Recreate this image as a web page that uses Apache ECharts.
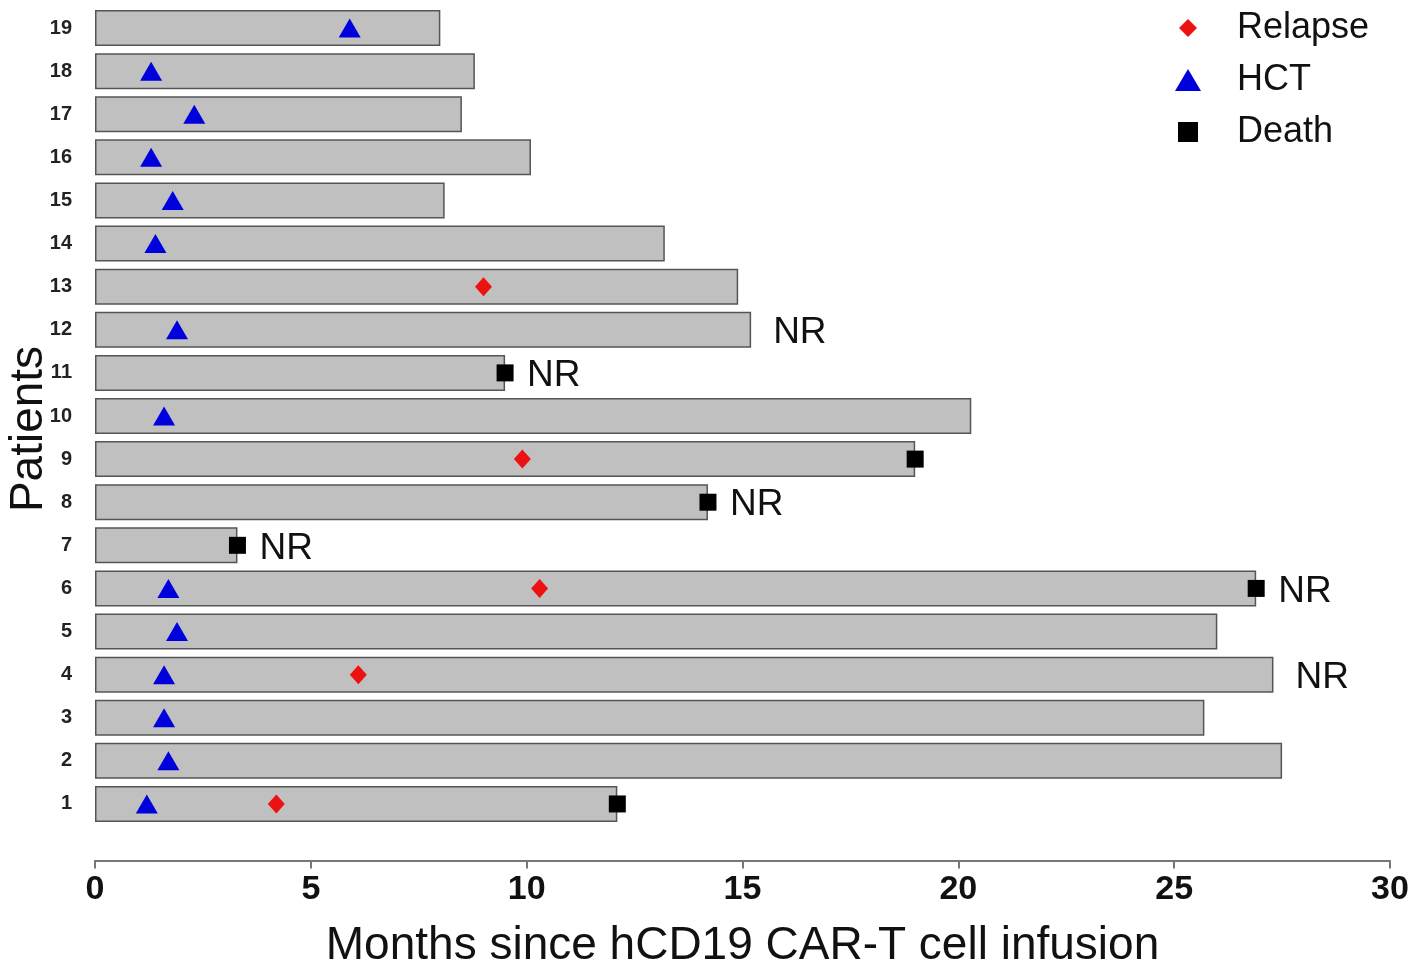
<!DOCTYPE html>
<html>
<head>
<meta charset="utf-8">
<script src="https://cdn.jsdelivr.net/npm/echarts@6/dist/echarts.min.js"></script>
<style>html,body{margin:0;padding:0;background:#fff;}#c{width:1416px;height:971px;}</style>
</head>
<body>
<div id="c"></div>
<script>
// Patients 1..19
const patients = ['1','2','3','4','5','6','7','8','9','10','11','12','13','14','15','16','17','18','19'];
const followUp = [12.1, 27.5, 25.7, 27.3, 26.0, 26.9, 3.3, 14.2, 19.0, 20.3, 9.5, 15.2, 14.9, 13.2, 8.1, 10.1, 8.5, 8.8, 8.0];
const hctTime = [1.2, 1.7, 1.6, 1.6, 1.9, 1.7, null, null, null, 1.6, null, 1.9, null, 1.4, 1.8, 1.3, 2.3, 1.3, 5.9];
const relapseTime = [4.2, null, null, 6.1, null, 10.3, null, null, 9.9, null, null, null, 9.0, null, null, null, null, null, null];
const deathTime = [12.1, null, null, null, null, 26.9, 3.3, 14.2, 19.0, null, 9.5, null, null, null, null, null, null, null, null];
const nrFlag = [false, false, false, true, false, true, true, true, false, false, true, true, false, false, false, false, false, false, false];
const xTicks = [0, 5, 10, 15, 20, 25, 30];
const legendNames = ['Relapse', 'HCT', 'Death'];

function pts(arr) {
  const out = [];
  arr.forEach((v, i) => { if (v !== null) out.push([v, patients[i]]); });
  return out;
}

function legendFor(name, left, top, w, h, padLeft) {
  return {
    data: [name], orient: 'vertical', left: left, top: top,
    itemWidth: w, itemHeight: h, padding: 0,
    textStyle: { fontSize: 36, color: '#111', lineHeight: 36, padding: [0, 0, 0, padLeft] }
  };
}

const chart = echarts.init(document.getElementById('c'));
chart.setOption({
  backgroundColor: '#ffffff',
  animation: false,
  textStyle: { fontFamily: 'Liberation Sans, Arial, sans-serif' },
  grid: { left: 95, right: 26, top: 6.5, bottom: 145.5, containLabel: false, outerBoundsMode: 'none' },
  legend: [
    legendFor(legendNames[0], 1179, 10, 18, 18, 35),
    legendFor(legendNames[1], 1175, 62, 26, 22, 31),
    legendFor(legendNames[2], 1178, 114, 20, 20, 34)
  ],
  xAxis: {
    type: 'value', min: xTicks[0], max: xTicks[xTicks.length - 1], interval: 5,
    offset: 35,
    axisLine: { show: true, lineStyle: { color: '#777', width: 2 } },
    axisTick: { show: true, length: 8, lineStyle: { color: '#777', width: 2 } },
    axisLabel: { fontSize: 34, fontWeight: 'bold', color: '#111', margin: 12 },
    splitLine: { show: false },
    name: 'Months since hCD19 CAR-T cell infusion',
    nameLocation: 'middle', nameGap: 63,
    nameTextStyle: { fontSize: 46, color: '#111' }
  },
  yAxis: {
    type: 'category', data: patients,
    axisLine: { show: false }, axisTick: { show: false },
    axisLabel: { fontSize: 20, fontWeight: 'bold', color: '#222', margin: 23 },
    name: 'Patients', nameLocation: 'middle', nameGap: 43, nameRotate: 90,
    nameMoveOverlap: false,
    nameTextStyle: { fontSize: 46, color: '#111', padding: [0, 26, 0, 0] }
  },
  series: [
    {
      name: 'Follow-up', type: 'bar', barWidth: 36,
      data: followUp.map((v, i) => ({
        value: v,
        label: { show: nrFlag[i], position: 'right', distance: 22, formatter: 'NR', fontSize: 37, color: '#111', offset: [0, 3] }
      })),
      itemStyle: { color: '#c0c0c0', borderColor: '#555', borderWidth: 1.5 },
      z: 1
    },
    {
      name: 'Relapse', type: 'scatter', symbol: 'diamond', symbolSize: [17, 19],
      data: pts(relapseTime), itemStyle: { color: '#ee1111', opacity: 1 }, z: 3
    },
    {
      name: 'HCT', type: 'scatter', symbol: 'triangle', symbolSize: [22, 19],
      data: pts(hctTime), itemStyle: { color: '#0000dd', opacity: 1 }, z: 3
    },
    {
      name: 'Death', type: 'scatter', symbol: 'rect', symbolSize: [17, 17],
      data: pts(deathTime), itemStyle: { color: '#000000', opacity: 1 }, z: 4
    }
  ]
});
</script>
</body>
</html>
